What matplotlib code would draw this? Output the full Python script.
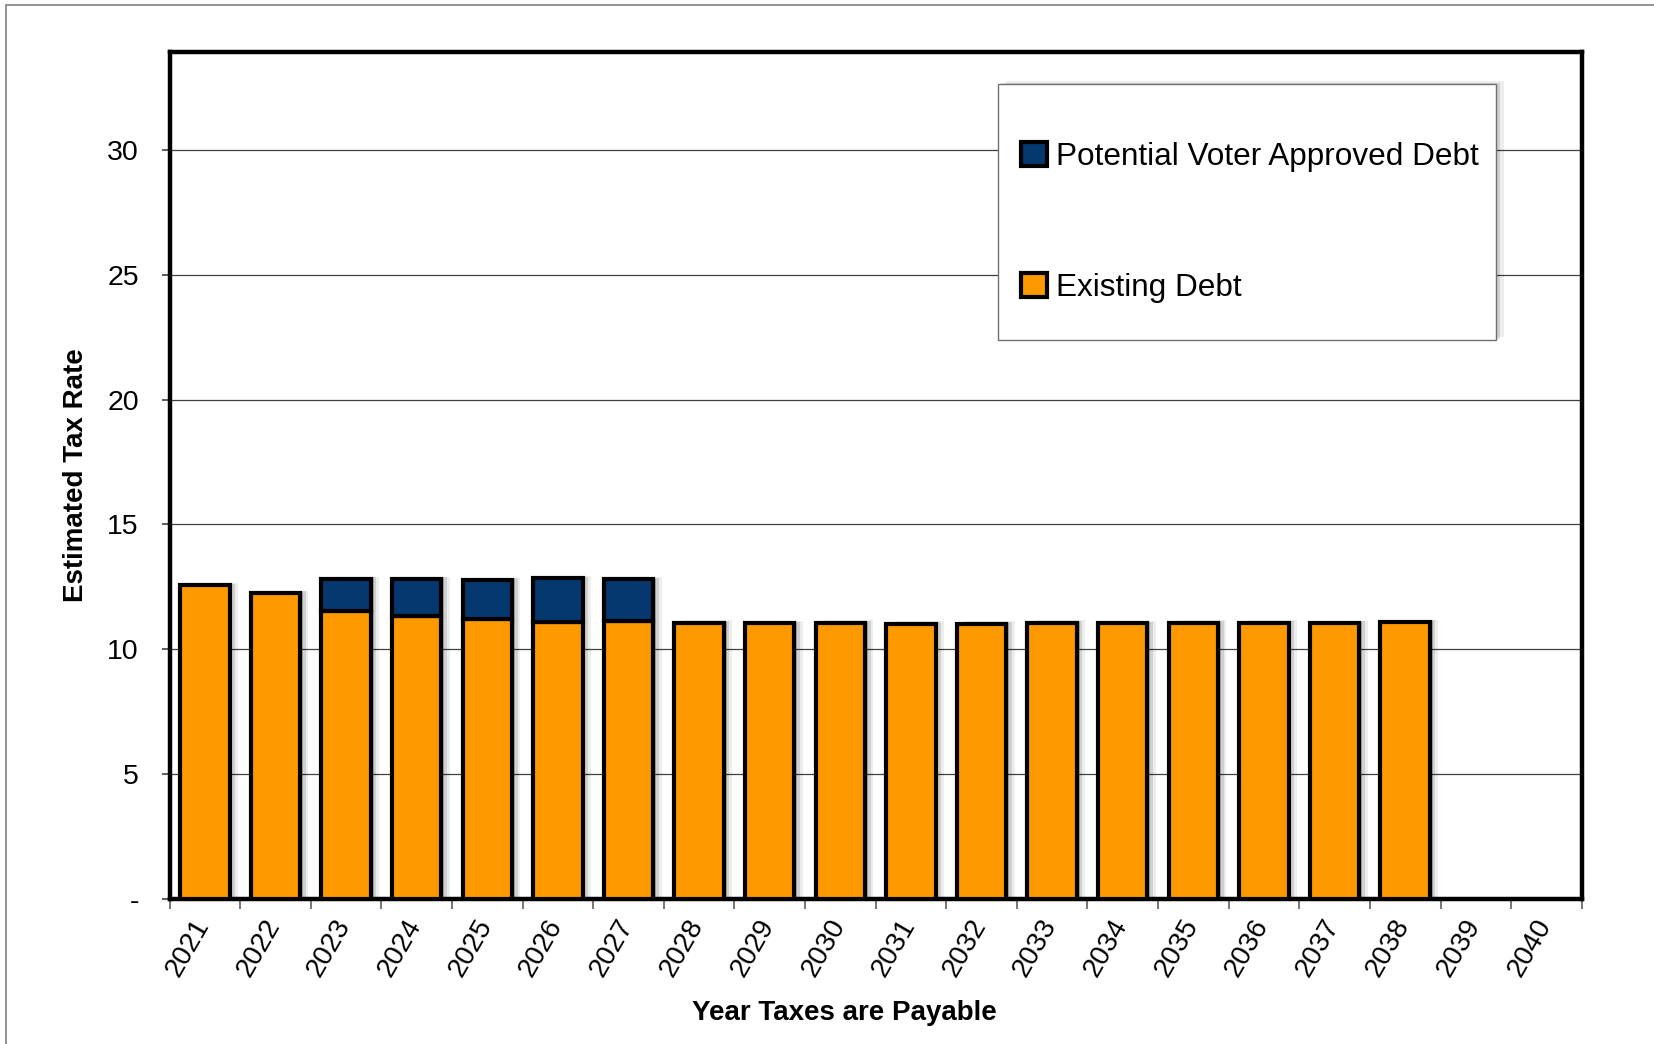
import matplotlib
matplotlib.use("Agg")
import matplotlib.pyplot as plt
import matplotlib.patheffects as pe
from matplotlib.patches import Rectangle, Patch
from matplotlib.transforms import ScaledTranslation
import numpy as np

plt.rcParams['font.family'] = ['Liberation Sans', 'DejaVu Sans']

years = [str(y) for y in range(2021, 2041)]
existing_debt = [12.57, 12.27, 11.53, 11.33, 11.23, 11.08, 11.12, 11.07, 11.05, 11.07,
                 11.03, 11.03, 11.07, 11.05, 11.07, 11.07, 11.06, 11.10, 0, 0]
potential_debt = [0, 0, 1.29, 1.49, 1.55, 1.77, 1.68, 0, 0, 0,
                  0, 0, 0, 0, 0, 0, 0, 0, 0, 0]
y_ticks = [0, 5, 10, 15, 20, 25, 30]
y_tick_labels = ['-', '5', '10', '15', '20', '25', '30']
series_names = ['Potential Voter Approved Debt', 'Existing Debt']

ORANGE = '#FF9900'
BLUE = '#04386E'

fig = plt.figure(figsize=(16.54, 10.44), dpi=100)
ax = fig.add_axes([0.1025, 0.139, 0.8538, 0.811])

shadow = [pe.SimplePatchShadow(offset=(6, 1.5), shadow_rgbFace='k', alpha=0.07),
          pe.SimplePatchShadow(offset=(4, 1), shadow_rgbFace='k', alpha=0.12),
          pe.SimplePatchShadow(offset=(2, 0.5), shadow_rgbFace='k', alpha=0.2),
          pe.Normal()]

x = np.arange(len(years))
ex = np.array(existing_debt)
pot = np.array(potential_debt)
width = 0.7

mask_e = ex > 0
bars_e = ax.bar(x[mask_e], ex[mask_e], width=width, color=ORANGE, edgecolor='black',
                linewidth=3, zorder=3)
mask_p = pot > 0
bars_p = ax.bar(x[mask_p], pot[mask_p], bottom=ex[mask_p], width=width, color=BLUE,
                edgecolor='black', linewidth=3, zorder=3)
for b in list(bars_e) + list(bars_p):
    b.set_path_effects(shadow)

ax.set_xlim(-0.5, len(years) - 0.5)
ax.set_ylim(0, 33.92)

ax.set_yticks(y_ticks)
ax.set_yticklabels(y_tick_labels, fontsize=20.5)
ax.yaxis.grid(True, color='#404040', linewidth=0.9, zorder=0)
ax.set_axisbelow(True)
ax.tick_params(axis='y', direction='out', length=6, width=1.2, color='#404040', pad=16)

ax.set_xticks(np.arange(len(years) + 1) - 0.5)
ax.set_xticklabels([])
ax.set_xticks(x, minor=True)
ax.set_xticklabels(years, minor=True, rotation=60, ha='right', fontsize=20)
ax.tick_params(axis='x', which='major', direction='out', length=7, width=1.2, color='#606060')
ax.tick_params(axis='x', which='minor', length=0, pad=11)
for lab in ax.get_xticklabels(minor=True):
    lab.set_transform(lab.get_transform() + ScaledTranslation(0.10, 0, fig.dpi_scale_trans))

for s in ax.spines.values():
    s.set_linewidth(3.2)
    s.set_color('black')

ax.set_ylabel('Estimated Tax Rate', fontsize=20, fontweight='bold')
ax.yaxis.set_label_coords(-0.057, 0.5)
ax.set_xlabel('Year Taxes are Payable', fontsize=20, fontweight='bold', va='top')
ax.xaxis.set_label_coords(0.478, -0.119)

# legend frame
frame = Rectangle((0.6034, 0.6743), 0.3011, 0.2452, transform=fig.transFigure,
                  facecolor='white', edgecolor='#707070', linewidth=1.0, zorder=5)
frame.set_path_effects([pe.SimplePatchShadow(offset=(6, 2), shadow_rgbFace='k', alpha=0.07),
                        pe.SimplePatchShadow(offset=(3, 1), shadow_rgbFace='k', alpha=0.12),
                        pe.Normal()])
ax.add_patch(frame)

handles = [Patch(facecolor=BLUE, edgecolor='black', linewidth=3),
           Patch(facecolor=ORANGE, edgecolor='black', linewidth=3)]
leg = ax.legend(handles, series_names, loc='upper left', bbox_to_anchor=(0.6175, 0.864),
                bbox_transform=fig.transFigure, frameon=False, fontsize=22.7, borderpad=0,
                handlelength=0.8, handleheight=0.8, handletextpad=0.3, labelspacing=3.2,
                borderaxespad=0)
leg.set_zorder(6)

# outer border
border = Rectangle((6 / 1654, -0.02), 1.02, 1 - 4.7 / 1044 + 0.02, transform=fig.transFigure,
                   facecolor='none', edgecolor='#808080', linewidth=1.2, clip_on=False)
fig.patches.append(border)

fig.savefig('out.png', dpi=100)
